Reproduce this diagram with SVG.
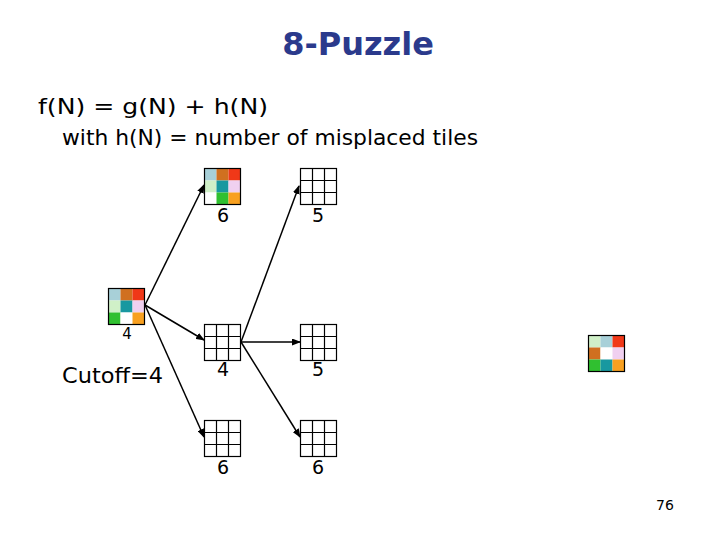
<svg xmlns="http://www.w3.org/2000/svg" width="720" height="540" viewBox="0 0 720 540">
<style>
.t{font-family:"DejaVu Sans","Liberation Sans",sans-serif;fill:#000}
.lb{font-size:19px;text-anchor:middle}
.g rect{stroke:#000;stroke-width:1}
.grid{fill:none;stroke:#000;stroke-width:1.2}
.c{stroke:#000;stroke-width:1.5;fill:none;marker-end:url(#ah)}
</style>
<defs>
<marker id="ah" markerWidth="9" markerHeight="7" refX="8" refY="3.5" orient="auto" markerUnits="userSpaceOnUse">
<path d="M0,0 L9,3.5 L0,7 Z" fill="#000"/>
</marker>
<g id="emptygrid">
<rect x="0" y="0" width="36" height="36" fill="#fff" stroke="#000" stroke-width="1.2"/>
<path d="M12,0V36M24,0V36M0,12H36M0,24H36" stroke="#000" stroke-width="1.2" fill="none"/>
</g>
</defs>
<rect width="720" height="540" fill="#fff"/>
<text x="358" y="55" font-family="'DejaVu Sans','Liberation Sans',sans-serif" font-weight="bold" font-size="32" fill="#2b3a8c" text-anchor="middle">8-Puzzle</text>
<text class="t" x="38" y="114" font-size="22" textLength="230" lengthAdjust="spacingAndGlyphs">f(N) = g(N) + h(N)</text>
<text class="t" x="62" y="145" font-size="22" textLength="416" lengthAdjust="spacingAndGlyphs">with h(N) = number of misplaced tiles</text>
<text class="t" x="62" y="383" font-size="22" textLength="101" lengthAdjust="spacingAndGlyphs">Cutoff=4</text>
<text class="t" x="665" y="510" font-size="14" text-anchor="middle">76</text>

<g id="connectors">
<line class="c" x1="145" y1="305" x2="204" y2="185"/>
<line class="c" x1="145" y1="305" x2="204" y2="340"/>
<line class="c" x1="145" y1="305" x2="204" y2="437"/>
<line class="c" x1="241" y1="342" x2="299" y2="186"/>
<line class="c" x1="241" y1="342" x2="300" y2="342"/>
<line class="c" x1="241" y1="342" x2="300" y2="437"/>
</g>

<g id="root">
<g transform="translate(108.5,288.5)">
<rect x="0" y="0" width="12" height="12" fill="#a8d0d8"/>
<rect x="12" y="0" width="12" height="12" fill="#d07020"/>
<rect x="24" y="0" width="12" height="12" fill="#f03818"/>
<rect x="0" y="12" width="12" height="12" fill="#d0f0c8"/>
<rect x="12" y="12" width="12" height="12" fill="#1898a0"/>
<rect x="24" y="12" width="12" height="12" fill="#f0d0f0"/>
<rect x="0" y="24" width="12" height="12" fill="#30c030"/>
<rect x="12" y="24" width="12" height="12" fill="#ffffff"/>
<rect x="24" y="24" width="12" height="12" fill="#f8a020"/>
<rect x="0" y="0" width="36" height="36" class="grid"/>
</g>
<text class="t" x="127" y="339" font-size="15" text-anchor="middle">4</text>
</g>

<g id="n1">
<g transform="translate(204.5,168.5)">
<rect x="0" y="0" width="12" height="12" fill="#a8d0d8"/>
<rect x="12" y="0" width="12" height="12" fill="#d07020"/>
<rect x="24" y="0" width="12" height="12" fill="#f03818"/>
<rect x="0" y="12" width="12" height="12" fill="#d0f0c8"/>
<rect x="12" y="12" width="12" height="12" fill="#1898a0"/>
<rect x="24" y="12" width="12" height="12" fill="#f0d0f0"/>
<rect x="0" y="24" width="12" height="12" fill="#ffffff"/>
<rect x="12" y="24" width="12" height="12" fill="#30c030"/>
<rect x="24" y="24" width="12" height="12" fill="#f8a020"/>
<rect x="0" y="0" width="36" height="36" class="grid"/>
</g>
<text class="t lb" x="223" y="222">6</text>
</g>

<g id="n2">
<use href="#emptygrid" x="300.5" y="168.5"/>
<text class="t lb" x="318" y="222">5</text>
</g>

<g id="n3">
<use href="#emptygrid" x="204.5" y="324.5"/>
<text class="t lb" x="223" y="376">4</text>
</g>

<g id="n4">
<use href="#emptygrid" x="300.5" y="324.5"/>
<text class="t lb" x="318" y="376">5</text>
</g>

<g id="n5">
<use href="#emptygrid" x="204.5" y="420.5"/>
<text class="t lb" x="223" y="474">6</text>
</g>

<g id="n6">
<use href="#emptygrid" x="300.5" y="420.5"/>
<text class="t lb" x="318" y="474">6</text>
</g>

<g id="goal">
<g transform="translate(588.5,335.5)">
<rect x="0" y="0" width="12" height="12" fill="#d0f0c8"/>
<rect x="12" y="0" width="12" height="12" fill="#a8d0d8"/>
<rect x="24" y="0" width="12" height="12" fill="#f03818"/>
<rect x="0" y="12" width="12" height="12" fill="#d07020"/>
<rect x="12" y="12" width="12" height="12" fill="#ffffff"/>
<rect x="24" y="12" width="12" height="12" fill="#f0d0f0"/>
<rect x="0" y="24" width="12" height="12" fill="#30c030"/>
<rect x="12" y="24" width="12" height="12" fill="#1898a0"/>
<rect x="24" y="24" width="12" height="12" fill="#f8a020"/>
<rect x="0" y="0" width="36" height="36" class="grid"/>
</g>
</g>
</svg>
